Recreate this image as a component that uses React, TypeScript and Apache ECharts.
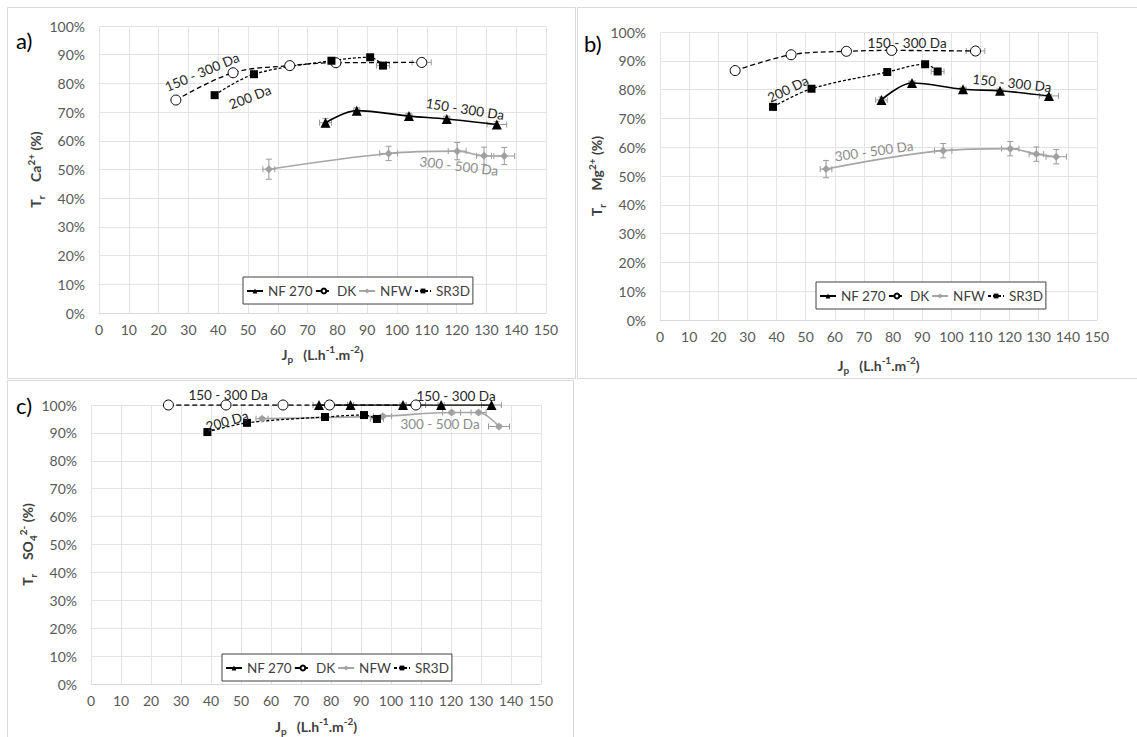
import React, { useEffect, useRef } from "react";
import * as echarts from "echarts";

const FONT = "Lato, 'Noto Sans', sans-serif";

const membranes = ["NF 270", "DK", "NFW", "SR3D"];

// Permeate flux J_p (L.h-1.m-2) per membrane
const jpNF270 = [76, 86.5, 104, 116.7, 133.5];
const jpDK = [25.8, 45, 64, 79.5, 108.3];
const jpNFW = [57, 97.2, 120.2, 129.2, 136];
const jpSR3D = [38.8, 52, 78, 91, 95.3];

// Ca2+ retention (%)
const caNF270 = [66.3, 70.5, 68.6, 67.6, 65.7];
const caDK = [74.2, 83.7, 86.2, 87.2, 87.3];
const caNFW = [50.1, 55.6, 56.4, 54.8, 54.7];
const caSR3D = [75.9, 83.2, 87.9, 89.1, 86.2];

// Mg2+ retention (%)
const mgNF270 = [76.4, 82.3, 80.1, 79.6, 77.8];
const mgDK = [86.6, 92.1, 93.3, 93.6, 93.4];
const mgNFW = [52.4, 58.8, 59.5, 57.6, 56.7];
const mgSR3D = [74.0, 80.3, 86.1, 88.8, 86.3];

// SO4 2- retention (%)
const so4NF270 = [100, 100, 100, 100, 100];
const so4DK = [100, 100, 100, 100, 100];
const so4NFW = [95.1, 96.0, 97.3, 97.3, 92.3];
const so4SR3D = [90.3, 93.6, 95.7, 96.4, 95.0];

// error bars (x in flux units, y in %)
const errXNF270 = [2, 1, 1, 1, 3.3];
const errXDK = [0, 0, 0, 0, 3.2];
const errXNFW = [2, 3, 3, 2.5, 3.5];
const errXSR3D = [0, 0, 0, 1, 2.2];
const errYNF270Ca = [1.5, 1, 1, 1, 1];
const errYNF270Mg = [1, 0.5, 0.5, 0.5, 0.5];
const errYNFWCa = [3.5, 2.5, 3, 3, 3];
const errYNFWMg = [3, 2.5, 2.5, 2.5, 2.5];
const errYNFWSO4 = [0.5, 0.5, 0.5, 0.5, 0.5];
const zeros = [0, 0, 0, 0, 0];

const xTickInterval = 10;
const yTickInterval = 10;

const styles: Record<string, any> = {
  "NF 270": {
    symbol: "triangle",
    symbolSize: 10,
    itemStyle: { color: "#000" },
    lineStyle: { color: "#000", width: 1.6, type: "solid" },
  },
  DK: {
    symbol: "circle",
    symbolSize: 10,
    itemStyle: { color: "#fff", borderColor: "#000", borderWidth: 1 },
    lineStyle: { color: "#000", width: 1.3, type: [5, 3] },
  },
  NFW: {
    symbol: "diamond",
    symbolSize: 8,
    itemStyle: { color: "#a0a0a0" },
    lineStyle: { color: "#a6a6a6", width: 1.6, type: "solid" },
  },
  SR3D: {
    symbol: "rect",
    symbolSize: 8,
    itemStyle: { color: "#000" },
    lineStyle: { color: "#000", width: 1.3, type: [3, 2] },
  },
};

function lineSeries(idx: number, name: string, xs: number[], ys: number[]) {
  const s = styles[name];
  return {
    type: "line",
    name,
    xAxisIndex: idx,
    yAxisIndex: idx,
    smooth: 0.35,
    showSymbol: true,
    symbol: s.symbol,
    symbolSize: s.symbolSize,
    itemStyle: s.itemStyle,
    lineStyle: s.lineStyle,
    z: 3,
    data: xs.map((x, i) => [x, ys[i]]),
  };
}

function errSeries(idx: number, xs: number[], ys: number[], ex: number[], ey: number[]) {
  return {
    type: "custom",
    xAxisIndex: idx,
    yAxisIndex: idx,
    silent: true,
    z: 2,
    encode: { x: 0, y: 1 },
    data: xs.map((x, i) => [x, ys[i], ex[i], ey[i]]),
    renderItem: (params: any, api: any) => {
      const x = api.value(0);
      const y = api.value(1);
      const dx = api.value(2);
      const dy = api.value(3);
      const children: any[] = [];
      const cap = 3;
      const st = { stroke: "#9a9a9a", lineWidth: 1 };
      if (dx > 0) {
        const l = api.coord([x - dx, y]);
        const r = api.coord([x + dx, y]);
        children.push({ type: "line", shape: { x1: l[0], y1: l[1], x2: r[0], y2: r[1] }, style: st });
        children.push({ type: "line", shape: { x1: l[0], y1: l[1] - cap, x2: l[0], y2: l[1] + cap }, style: st });
        children.push({ type: "line", shape: { x1: r[0], y1: r[1] - cap, x2: r[0], y2: r[1] + cap }, style: st });
      }
      if (dy > 0) {
        const t = api.coord([x, y + dy]);
        const b = api.coord([x, y - dy]);
        children.push({ type: "line", shape: { x1: t[0], y1: t[1], x2: b[0], y2: b[1] }, style: st });
        children.push({ type: "line", shape: { x1: t[0] - cap, y1: t[1], x2: t[0] + cap, y2: t[1] }, style: st });
        children.push({ type: "line", shape: { x1: b[0] - cap, y1: b[1], x2: b[0] + cap, y2: b[1] }, style: st });
      }
      return { type: "group", children };
    },
  };
}

const richTitle = {
  t: { fontSize: 14, fontWeight: "bold", color: "#404040", fontFamily: FONT, lineHeight: 20 },
  sub: { fontSize: 10, fontWeight: "bold", color: "#404040", fontFamily: FONT, verticalAlign: "bottom", lineHeight: 20 },
  sup: { fontSize: 10, fontWeight: "bold", color: "#404040", fontFamily: FONT, verticalAlign: "top", lineHeight: 20 },
};

function xAxis(idx: number, gap: number) {
  return {
    type: "value",
    gridIndex: idx,
    min: 0,
    max: 150,
    interval: xTickInterval,
    name: "{t|J}{sub|p}{t|   (L.h}{sup|-1}{t|.m}{sup|-2}{t|)}",
    nameLocation: "middle",
    nameGap: gap,
    nameTextStyle: { rich: richTitle },
    axisLine: { show: true, lineStyle: { color: "#d9d9d9" } },
    axisTick: { show: false },
    axisLabel: { color: "#595959", fontSize: 14, fontFamily: FONT, margin: 9 },
    splitLine: { show: true, lineStyle: { color: "#e3e3e3", width: 1 } },
  };
}

function yAxis(idx: number, ion: string, gap: number) {
  return {
    type: "value",
    gridIndex: idx,
    min: 0,
    max: 100,
    interval: yTickInterval,
    name: ion,
    nameLocation: "middle",
    nameRotate: 90,
    nameGap: gap,
    nameTextStyle: { rich: richTitle },
    axisLine: { show: false },
    axisTick: { show: false },
    axisLabel: { color: "#595959", fontSize: 14, fontFamily: FONT, margin: 14, formatter: "{value}%" },
    splitLine: { show: true, lineStyle: { color: "#e3e3e3", width: 1 } },
  };
}

function legend(left: number, top: number) {
  return {
    left,
    top,
    orient: "horizontal",
    data: membranes,
    itemWidth: 16,
    itemHeight: 6,
    itemGap: 2,
    padding: [7, 3, 6, 3],
    borderColor: "#404040",
    borderWidth: 1,
    backgroundColor: "#fff",
    textStyle: { fontSize: 13.5, color: "#404040", fontFamily: FONT },
    selectedMode: false,
    z: 10,
  };
}

function label(text: string, x: number, y: number, deg: number, color = "#262626") {
  return {
    type: "text",
    x,
    y,
    rotation: (deg * Math.PI) / 180,
    z: 20,
    style: {
      text,
      fill: color,
      fontSize: 13.5,
      fontFamily: FONT,
      textAlign: "center",
      textVerticalAlign: "middle",
    },
  };
}

function panelLetter(text: string, x: number, y: number) {
  return {
    type: "text",
    x,
    y,
    z: 20,
    style: { text, fill: "#000", fontSize: 22, fontFamily: FONT, textAlign: "left", textVerticalAlign: "middle" },
  };
}

function frame(x: number, y: number, w: number, h: number) {
  return {
    type: "rect",
    shape: { x, y, width: w, height: h },
    style: { fill: "none", stroke: "#d9d9d9", lineWidth: 1 },
    z: 0,
    silent: true,
  };
}

export default function App() {
  const ref = useRef<HTMLDivElement>(null);
  useEffect(() => {
    if (!ref.current) return;
    const chart = echarts.init(ref.current, undefined, { renderer: "svg" });
    const option: any = {
      animation: false,
      backgroundColor: "#fff",
      textStyle: { fontFamily: FONT },
      grid: [
        { left: 99, top: 26, width: 447, height: 287 },
        { left: 660, top: 32, width: 437, height: 288 },
        { left: 91, top: 405, width: 450, height: 287 },
      ],
      xAxis: [xAxis(0, 31), xAxis(1, 35), xAxis(2, 32)],
      yAxis: [
        yAxis(0, "{t|T}{sub|r}{t|    Ca}{sup|2+}{t| (%)}", 53),
        yAxis(1, "{t|T}{sub|r}{t|    Mg}{sup|2+}{t| (%)}", 51),
        yAxis(2, "{t|T}{sub|r}{t|    SO}{sub|4}{sup|2-}{t| (%)}", 52),
      ],
      legend: [legend(243, 277), legend(816, 282), legend(222, 654)],
      graphic: [
        frame(7.5, 7.5, 568, 371),
        frame(577.5, 7.5, 570, 371),
        frame(7.5, 380.5, 566, 370),
        panelLetter("a)", 16, 40),
        panelLetter("b)", 584, 43),
        panelLetter("c)", 16, 405),
        label("150 - 300 Da", 202, 72, 23),
        label("200 Da", 250, 97, 21),
        label("150 - 300 Da", 465, 109, -9),
        label("300 - 500 Da", 459, 166, -7, "#8c8c8c"),
        label("150 - 300 Da", 907, 43, 0),
        label("200 Da", 788, 89, 26),
        label("150 - 300 Da", 1012, 83, -6),
        label("300 - 500 Da", 874, 151, 8, "#8c8c8c"),
        label("150 - 300 Da", 228, 395, 0),
        label("150 - 300 Da", 456, 396, 0),
        label("200 Da", 227, 421, 16),
        label("300 - 500 Da", 440, 424, 0, "#8c8c8c"),
      ],
      series: [
        errSeries(0, jpNFW, caNFW, errXNFW, errYNFWCa),
        errSeries(0, jpNF270, caNF270, errXNF270, errYNF270Ca),
        errSeries(0, jpDK, caDK, errXDK, zeros),
        errSeries(0, jpSR3D, caSR3D, errXSR3D, zeros),
        lineSeries(0, "NF 270", jpNF270, caNF270),
        lineSeries(0, "DK", jpDK, caDK),
        lineSeries(0, "NFW", jpNFW, caNFW),
        lineSeries(0, "SR3D", jpSR3D, caSR3D),

        errSeries(1, jpNFW, mgNFW, errXNFW, errYNFWMg),
        errSeries(1, jpNF270, mgNF270, errXNF270, errYNF270Mg),
        errSeries(1, jpDK, mgDK, errXDK, zeros),
        errSeries(1, jpSR3D, mgSR3D, errXSR3D, zeros),
        lineSeries(1, "NF 270", jpNF270, mgNF270),
        lineSeries(1, "DK", jpDK, mgDK),
        lineSeries(1, "NFW", jpNFW, mgNFW),
        lineSeries(1, "SR3D", jpSR3D, mgSR3D),

        errSeries(2, jpNFW, so4NFW, errXNFW, errYNFWSO4),
        errSeries(2, jpNF270, so4NF270, errXNF270, zeros),
        errSeries(2, jpDK, so4DK, errXDK, zeros),
        errSeries(2, jpSR3D, so4SR3D, errXSR3D, zeros),
        lineSeries(2, "NF 270", jpNF270, so4NF270),
        lineSeries(2, "DK", jpDK, so4DK),
        lineSeries(2, "NFW", jpNFW, so4NFW),
        lineSeries(2, "SR3D", jpSR3D, so4SR3D),
      ],
    };
    chart.setOption(option);
    return () => chart.dispose();
  }, []);
  return (
    <div
      ref={ref}
      style={{ position: "absolute", left: 0, top: 0, width: 1137, height: 737, background: "#fff" }}
    />
  );
}
